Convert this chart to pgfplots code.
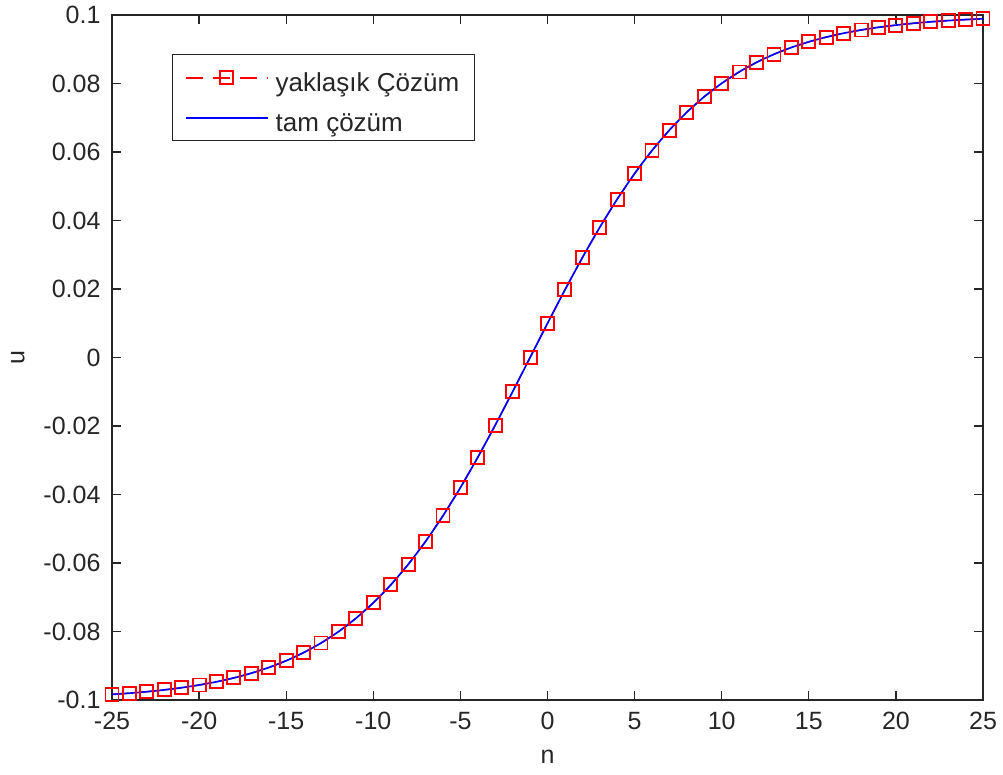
\documentclass[border=0pt]{standalone}
\usepackage{pgfplots}
\pgfplotsset{compat=1.18}
\usepackage{pgfplotstable}
\usepackage{fontspec}
\setmainfont{Liberation Sans}

% n, u
\pgfplotstableread{
n u
-25 -0.098367
-24 -0.098010
-23 -0.097574
-22 -0.097045
-21 -0.096403
-20 -0.095624
-19 -0.094681
-18 -0.093541
-17 -0.092167
-16 -0.090515
-15 -0.088535
-14 -0.086172
-13 -0.083365
-12 -0.080050
-11 -0.076159
-10 -0.071630
-9 -0.066404
-8 -0.060437
-7 -0.053705
-6 -0.046212
-5 -0.037995
-4 -0.029131
-3 -0.019738
-2 -0.009967
-1 0.000000
0 0.009967
1 0.019738
2 0.029131
3 0.037995
4 0.046212
5 0.053705
6 0.060437
7 0.066404
8 0.071630
9 0.076159
10 0.080050
11 0.083365
12 0.086172
13 0.088535
14 0.090515
15 0.092167
16 0.093541
17 0.094681
18 0.095624
19 0.096403
20 0.097045
21 0.097574
22 0.098010
23 0.098367
24 0.098661
25 0.098903
}\solution

\newcommand{\chartfont}{\fontsize{25}{30}\selectfont}
\newcommand{\legendfont}{\fontsize{26}{30}\selectfont}

\begin{document}
\begin{tikzpicture}
\begin{axis}[
  at={(0pt,0pt)}, anchor=south west,
  scale only axis,
  width=871pt, height=685pt,
  xmin=-25, xmax=25, ymin=-0.1, ymax=0.1,
  axis line style={line width=1.3pt, black!85},
  tick style={line width=1.3pt, black!85},
  tick align=inside,
  major tick length=9pt,
  xtick={-25,-20,...,25},
  xticklabels={-25,-20,-15,-10,-5,0,5,10,15,20,25},
  ytick={-0.1,-0.08,-0.06,-0.04,-0.02,0,0.02,0.04,0.06,0.08,0.1},
  yticklabels={-0.1,-0.08,-0.06,-0.04,-0.02,0,0.02,0.04,0.06,0.08,0.1},
  scaled y ticks=false,
  tick label style={font=\chartfont, text=black!85},
  xticklabel style={yshift=-9pt},
  yticklabel style={xshift=-8pt},
  xlabel={n}, ylabel={u},
  label style={font=\chartfont, text=black!85},
  xlabel style={at={(rel axis cs:0.5,0)}, anchor=center, yshift=-57pt},
  ylabel style={at={(rel axis cs:0,0.5)}, anchor=center, yshift=94pt},
  legend cell align=left,
  legend style={
    at={(rel axis cs:0.069,0.9431)}, anchor=north west,
    draw=black!85, line width=1.3pt,
    font=\legendfont, text=black!85,
    inner xsep=12pt, inner ysep=6.5pt,
    row sep=7pt, column sep=4pt,
    nodes={inner sep=3pt, text height=27pt, text depth=0pt},
  },
  legend image code/.code={
    \draw[line width=2pt, mark repeat=2, mark phase=2]
      plot coordinates {(0pt,0pt) (41pt,0pt) (82pt,0pt)};
  },
]
\addplot[red, line width=1.4pt, dash pattern=on 17pt off 10pt,
  mark=square, mark size=6.5pt,
  mark options={solid, draw=red, fill=none, line width=1.9pt}]
  table[x=n, y=u] {\solution};
\addlegendentry{yaklaşık Çözüm}
\addplot[blue, line width=1.7pt, smooth, tension=0.4]
  table[x=n, y=u] {\solution};
\addlegendentry{tam çözüm}
\end{axis}
\pgfresetboundingbox
\path[use as bounding box] (-112pt,-74pt) rectangle (891pt,700pt);
\end{tikzpicture}
\end{document}
